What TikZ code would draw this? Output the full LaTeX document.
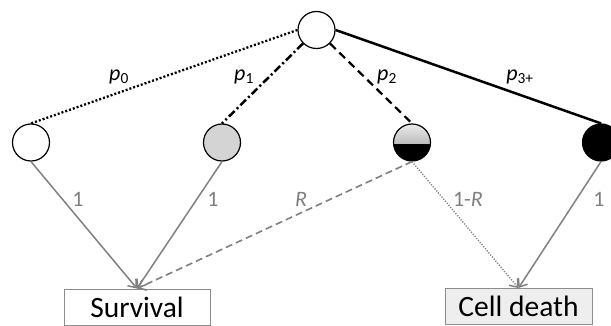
\documentclass[tikz,border=0pt]{standalone}
\usepackage{fontspec}
\setmainfont{Carlito}
\usetikzlibrary{arrows.meta}
\definecolor{edgegrey}{HTML}{808080}
\definecolor{labgrey}{HTML}{7F7F7F}
\definecolor{boxgrey}{HTML}{8C8C8C}
\definecolor{boxfill}{HTML}{EEEEEE}
\definecolor{lightfill}{HTML}{D4D4D4}
\tikzset{
  state/.style={circle, draw=black, line width=1.2pt, minimum size=37pt, inner sep=0pt},
  outcome/.style={draw=boxgrey, line width=0.9pt, minimum width=146pt, minimum height=36pt, inner sep=0pt, font=\fontsize{29.5}{32}\selectfont},
  plab/.style={font=\fontsize{22}{25}\selectfont, inner sep=0pt},
  glab/.style={font=\fontsize{22}{25}\selectfont, text=labgrey, inner sep=0pt},
  pdot/.style={line width=2.3pt, dash pattern=on 2pt off 2pt},
  pdashdot/.style={line width=2.5pt, dash pattern=on 8pt off 3pt on 2pt off 3pt},
  pdash/.style={line width=2.2pt, dash pattern=on 8pt off 5pt},
  psolid/.style={line width=2.5pt},
  garrow/.style={draw=edgegrey, line width=1.5pt, -{Straight Barb[length=7pt,width=11pt]}},
  gdash/.style={garrow, dash pattern=on 7pt off 4pt, line width=1.6pt},
  gdot/.style={garrow, dash pattern=on 1.2pt off 1.5pt, line width=1.4pt},
}
\begin{document}
\begin{tikzpicture}[x=1pt,y=-1pt]
\useasboundingbox (0,0) rectangle (611,326);
% states
\node[state, fill=white] (top) at (316.5,30) {};
\node[state, fill=white] (s0) at (31,142.5) {};
\node[state, fill=lightfill] (s1) at (222,142.5) {};
\node[state, path picture={
  \shade[top color=black!8, bottom color=black!42]
     (path picture bounding box.north west) rectangle ([yshift=-2pt]path picture bounding box.east);
  \fill[black] ([yshift=-2pt]path picture bounding box.west) rectangle (path picture bounding box.south east);
}] (s2) at (412,142.5) {};
\node[state, fill=black] (s3) at (601,142.5) {};
% outcomes
\node[outcome, fill=white] (surv) at (137,307) {Survival};
\node[outcome, fill=boxfill, minimum width=147pt] (death) at (518.5,306.5) {Cell death};
% upper connectors
\draw[pdot] (top.west) -- (s0.north);
\draw[pdashdot] (top.south west) -- (s1.north);
\draw[pdash] (top.south east) -- (s2.north);
\draw[psolid] (top.east) -- (s3.north);
% lower connectors
\draw[garrow] (s0.south) -- (surv.north);
\draw[garrow] (s1.south) -- (surv.north);
\draw[gdash] (s2.south) -- (surv.north);
\draw[gdot] (s2.south) -- (death.north);
\draw[garrow] (s3.south) -- (death.north);
% labels
\node[plab] (l0) at (119,77) {\textit{p}\textsubscript{0}};
\node[plab] (l1) at (244,77) {\textit{p}\textsubscript{1}};
\node[plab] (l2) at (387,77) {\textit{p}\textsubscript{2}};
\node[plab] (l3) at (520,77) {\textit{p}\textsubscript{3+}};
\node[glab] (g0) at (78,199) {1};
\node[glab] (g1) at (213,199) {1};
\node[glab] (gr) at (301,199) {\textit{R}};
\node[glab] (g2) at (468,199) {1-\textit{R}};
\node[glab] (g3) at (599,199) {1};
\end{tikzpicture}
\end{document}
